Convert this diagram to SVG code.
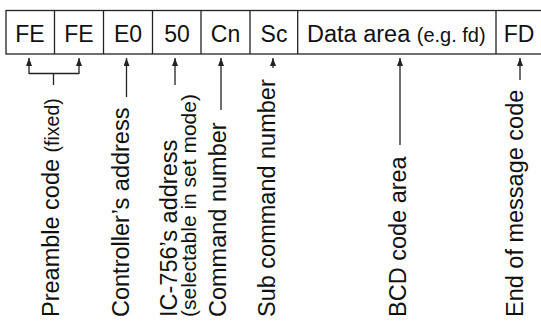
<svg xmlns="http://www.w3.org/2000/svg" width="541" height="322" viewBox="0 0 541 322">
<style>
.cell{fill:#fff;stroke:#222;stroke-width:1.3}
.hd{font-family:"Liberation Sans",Arial,sans-serif;font-size:23px;fill:#111;text-anchor:middle}
.hdl{font-family:"Liberation Sans",Arial,sans-serif;font-size:23.5px;fill:#111}
.sm{font-size:20px}
.lb{font-family:"Liberation Sans",Arial,sans-serif;font-size:23.5px;fill:#111}
.lbs{font-family:"Liberation Sans",Arial,sans-serif;font-size:21px;fill:#111}
.cn{fill:none;stroke:#222;stroke-width:1.3}
</style>
<defs>
<marker id="ah" viewBox="0 0 8 6" refX="8" refY="3" markerWidth="8" markerHeight="6" markerUnits="userSpaceOnUse" orient="auto">
<path d="M0,0 L8,3 L0,6 Z" fill="#222"/>
</marker>
</defs>
<rect width="541" height="322" fill="#fff"/>
<g id="frame">
<rect class="cell" x="6" y="10.5" width="545" height="43.5"/>
</g>
<g id="cell-fe1"><text class="hd" x="30" y="41.5">FE</text></g>
<g id="cell-fe2"><line class="cell" x1="54.5" y1="10.5" x2="54.5" y2="54"/><text class="hd" x="79" y="41.5">FE</text></g>
<g id="cell-e0"><line class="cell" x1="103.5" y1="10.5" x2="103.5" y2="54"/><text class="hd" x="128" y="41.5">E0</text></g>
<g id="cell-50"><line class="cell" x1="152.5" y1="10.5" x2="152.5" y2="54"/><text class="hd" x="177" y="41.5">50</text></g>
<g id="cell-cn"><line class="cell" x1="201" y1="10.5" x2="201" y2="54"/><text class="hd" x="225.5" y="41.5">Cn</text></g>
<g id="cell-sc"><line class="cell" x1="250" y1="10.5" x2="250" y2="54"/><text class="hd" x="274" y="41.5">Sc</text></g>
<g id="cell-data"><line class="cell" x1="297.7" y1="10.5" x2="297.7" y2="54"/><text class="hdl" x="307" y="41.5">Data area <tspan class="sm">(e.g. fd)</tspan></text></g>
<g id="cell-fd"><line class="cell" x1="496" y1="10.5" x2="496" y2="54"/><text class="hd" x="519" y="41.5">FD</text></g>

<g id="connectors">
<path class="cn" d="M29,74 L29,58" marker-end="url(#ah)"/>
<path class="cn" d="M79,74 L79,58" marker-end="url(#ah)"/>
<path class="cn" d="M29,73.5 L79,73.5 M53.5,73.5 L53.5,85"/>
<path class="cn" d="M126.5,97 L126.5,58" marker-end="url(#ah)"/>
<path class="cn" d="M175,85 L175,58" marker-end="url(#ah)"/>
<path class="cn" d="M221,110 L221,58" marker-end="url(#ah)"/>
<path class="cn" d="M273,68 L273,58" marker-end="url(#ah)"/>
<path class="cn" d="M400,145 L400,58" marker-end="url(#ah)"/>
<path class="cn" d="M520,80 L520,58" marker-end="url(#ah)"/>
</g>

<g id="label-preamble"><text class="lb" transform="translate(59,317) rotate(-90)">Preamble code <tspan style="font-size:19.5px">(fixed)</tspan></text></g>
<g id="label-controller"><text class="lb" transform="translate(129,317) rotate(-90)">Controller’s address</text></g>
<g id="label-ic756"><text class="lb" transform="translate(177,317) rotate(-90)">IC-756’s address</text><text class="lbs" transform="translate(196,317) rotate(-90)">(selectable in set mode)</text></g>
<g id="label-command"><text class="lb" transform="translate(225.5,317) rotate(-90)">Command number</text></g>
<g id="label-subcommand"><text class="lb" transform="translate(275,317) rotate(-90)">Sub command number</text></g>
<g id="label-bcd"><text class="lb" transform="translate(405.5,317) rotate(-90)">BCD code area</text></g>
<g id="label-end"><text class="lb" transform="translate(523,317) rotate(-90)">End of message code</text></g>
</svg>
